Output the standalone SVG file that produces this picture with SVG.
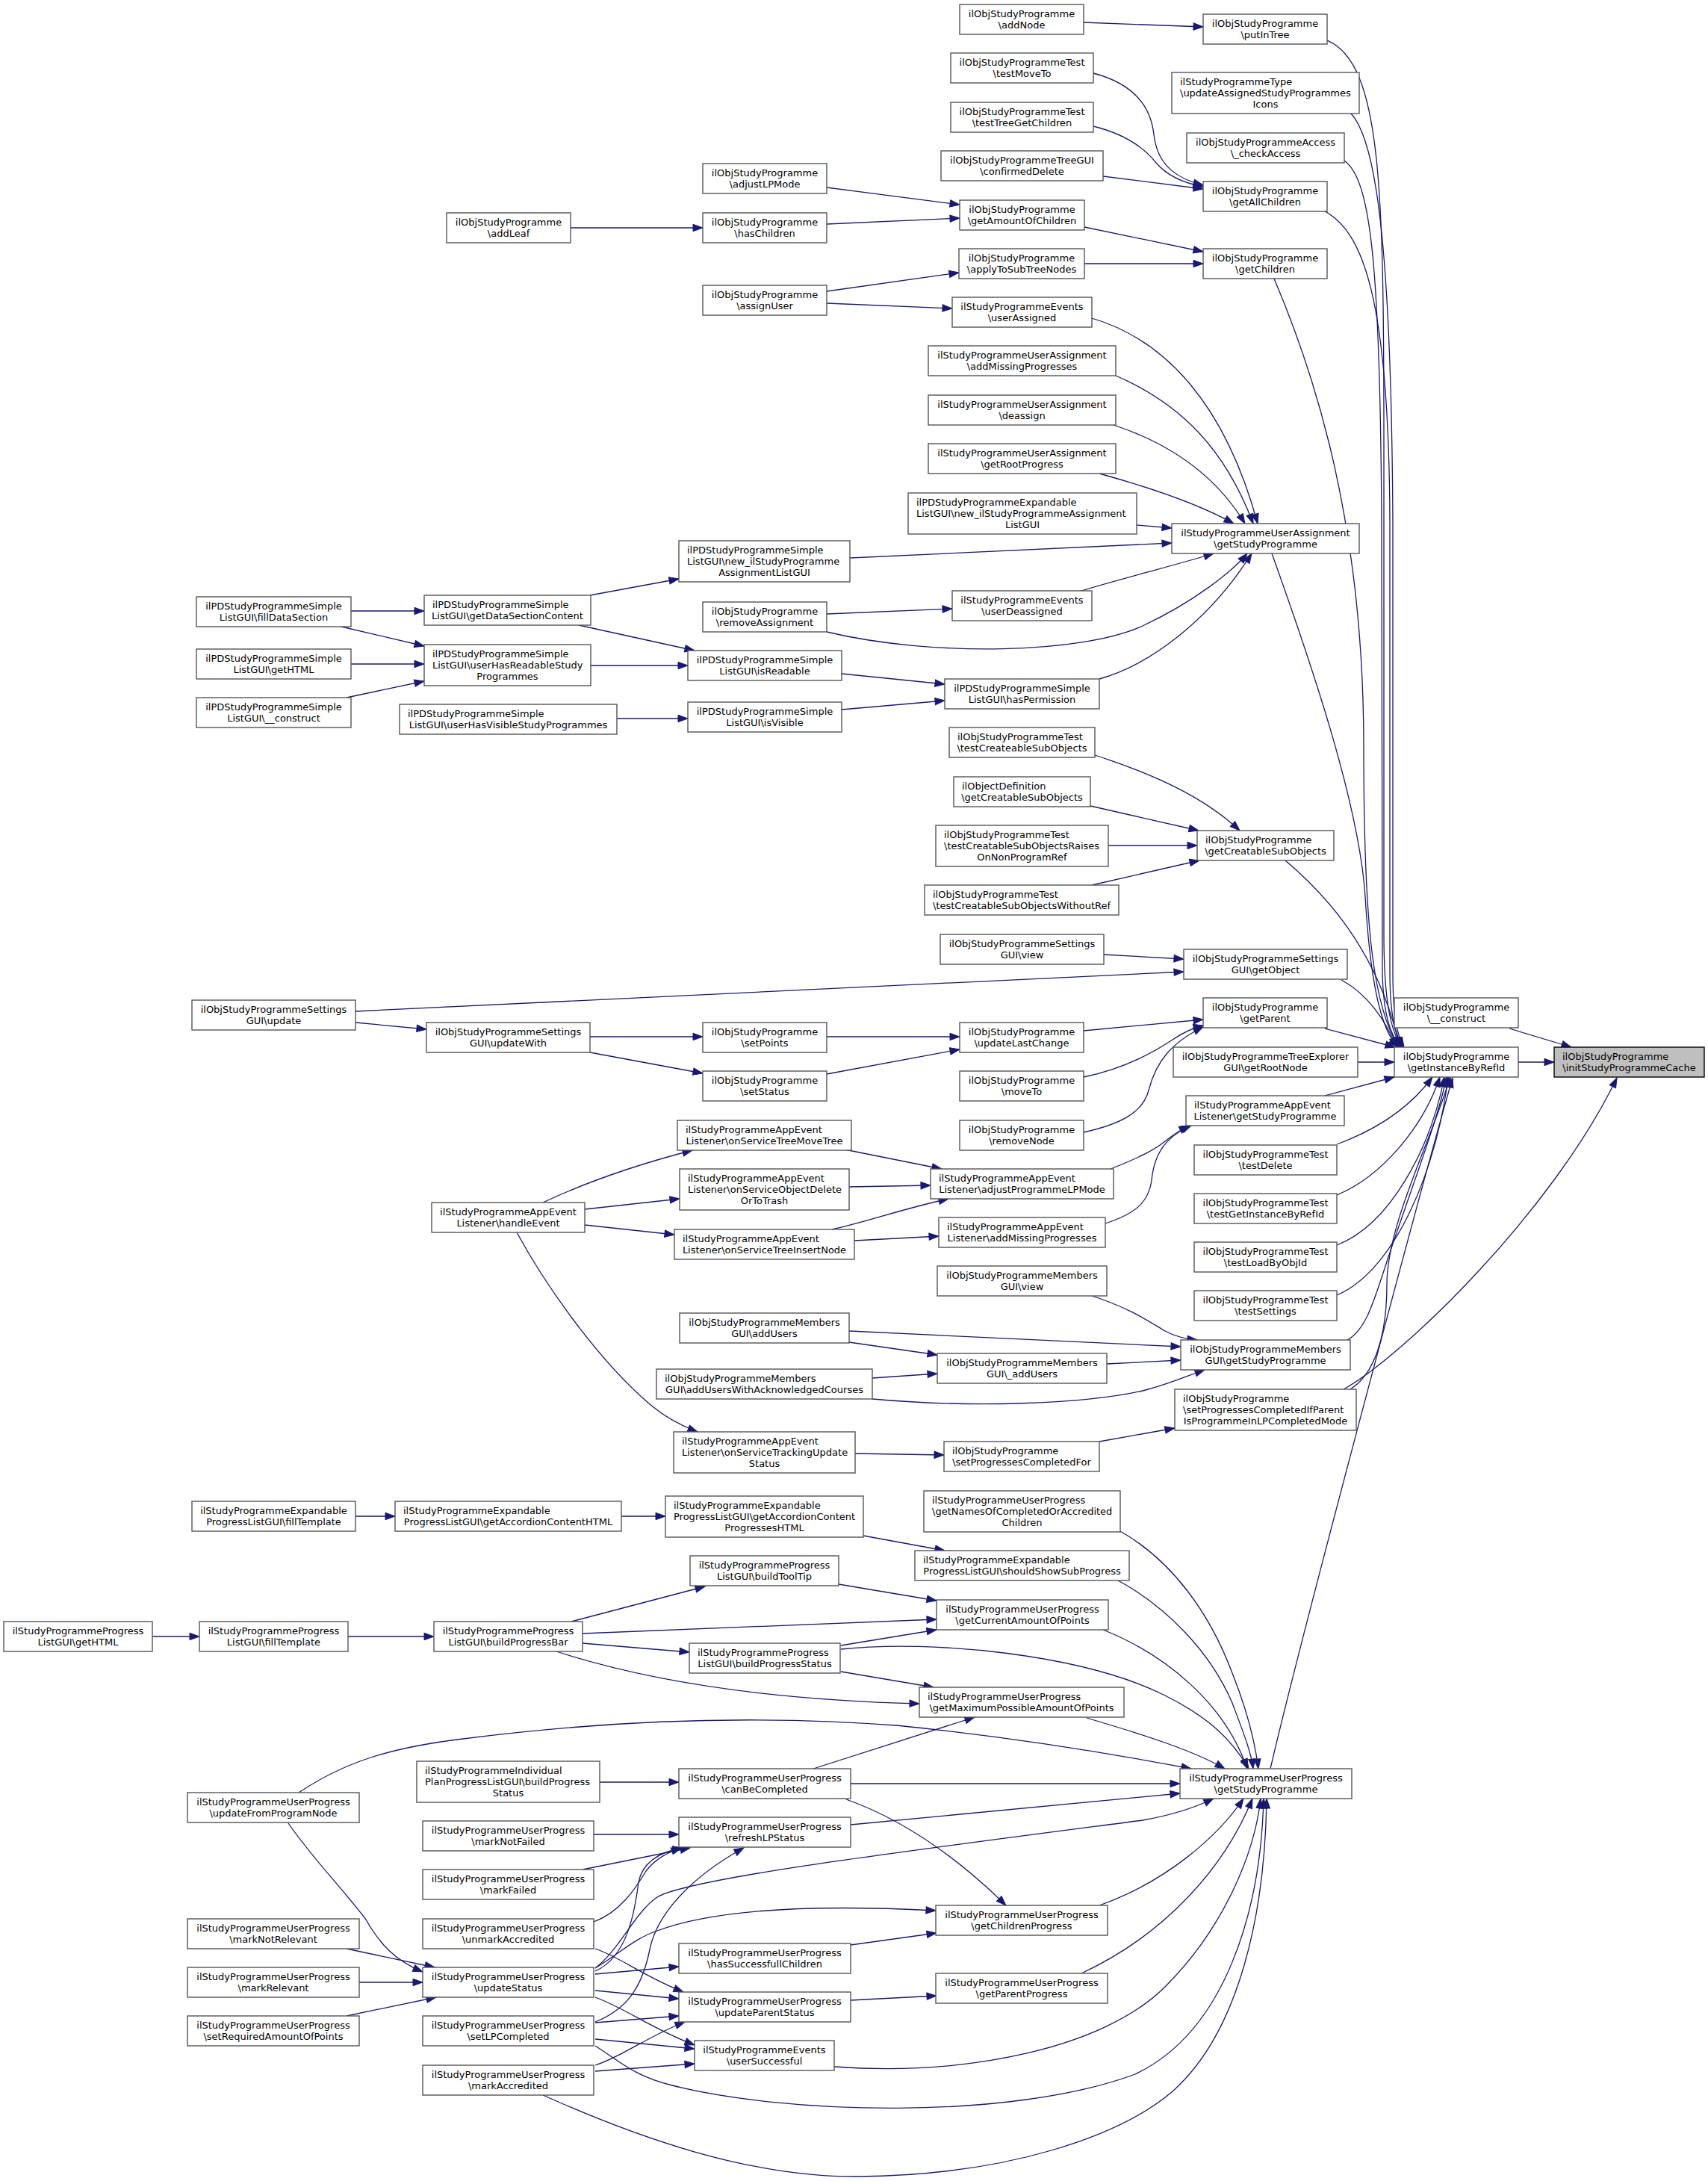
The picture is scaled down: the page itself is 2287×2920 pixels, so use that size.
<svg xmlns="http://www.w3.org/2000/svg" width="2287" height="2920" viewBox="0 0 2287 2920">
<style>
.node rect{fill:#fff;stroke:#555;stroke-width:1.4}
.node text{font-family:"DejaVu Sans",sans-serif;font-size:13px;fill:#000}
.c{text-anchor:middle}
.l{text-anchor:start}
.root rect{fill:#bfbfbf;stroke:#000}
#edges path{fill:none;stroke:#191970;stroke-width:1.3;marker-end:url(#arr)}
</style>
<defs>
<marker id="arr" markerUnits="userSpaceOnUse" markerWidth="15" markerHeight="11" refX="13" refY="5" orient="auto" overflow="visible">
<path d="M0,0.3 L13,5 L0,9.7 z" fill="#191970" stroke="#191970" stroke-width="1"/>
</marker>
</defs>
<rect width="2287" height="2920" fill="#fff"/>
<g id="edges">
<path d="M2033,1422 L2081,1422"/>
<path d="M2021,1377 L2104,1402"/>
<path d="M1799,1860 C1880,1815 2080,1620 2165,1443"/>
<path d="M1777,54 C1850,85 1853,250 1853,600 L1853,1250 C1853,1340 1862,1380 1877,1402"/>
<path d="M1809,152 C1845,190 1863,350 1865,700 L1865,1300 C1865,1360 1870,1385 1880,1402"/>
<path d="M1800,215 C1835,240 1848,350 1850,700 L1851,1300 C1852,1360 1862,1385 1875,1402"/>
<path d="M1774,283 C1825,310 1860,400 1861,700 L1861,1300 C1861,1360 1868,1385 1879,1402"/>
<path d="M1706,373 C1760,500 1826,700 1826,1000 C1826,1250 1840,1350 1873,1402"/>
<path d="M1703,741 C1760,900 1820,1080 1828,1200 C1835,1320 1850,1380 1872,1402"/>
<path d="M1721,1152 C1790,1210 1850,1290 1874,1402"/>
<path d="M1796,1312 C1830,1330 1855,1365 1870,1402"/>
<path d="M1774,1377 L1868,1402"/>
<path d="M1818,1422 L1867,1422"/>
<path d="M1774,1467 L1867,1442"/>
<path d="M1790,1532 C1850,1510 1890,1480 1918,1442"/>
<path d="M1790,1600 C1850,1575 1905,1510 1928,1442"/>
<path d="M1790,1667 C1860,1640 1915,1540 1934,1442"/>
<path d="M1790,1734 C1870,1700 1925,1560 1939,1442"/>
<path d="M1804,1794 C1830,1780 1840,1740 1860,1680 C1890,1590 1925,1500 1937,1442"/>
<path d="M1808,1860 C1840,1840 1857,1790 1857,1720 C1857,1640 1915,1530 1942,1442"/>
<path d="M1701,2368 C1740,2200 1900,1600 1945,1443"/>
<path d="M1451,30 L1611,36"/>
<path d="M1464,98 C1510,110 1540,135 1545,180 C1550,225 1580,240 1611,248"/>
<path d="M1464,169 C1500,178 1530,195 1548,218 C1565,238 1590,246 1611,250"/>
<path d="M1477,236 L1611,253"/>
<path d="M1452,304 L1611,337"/>
<path d="M1452,353 L1611,353"/>
<path d="M1107,251 L1285,274"/>
<path d="M1107,300 L1285,292"/>
<path d="M764,305 L941,305"/>
<path d="M1107,390 L1284,365"/>
<path d="M1107,406 L1275,413"/>
<path d="M1462,426 C1560,455 1640,540 1684,701"/>
<path d="M1494,503 C1580,540 1640,600 1678,701"/>
<path d="M1491,569 C1570,595 1630,640 1667,701"/>
<path d="M1472,634 C1530,650 1600,672 1652,701"/>
<path d="M1522,703 L1569,707"/>
<path d="M1138,747 L1569,727"/>
<path d="M1448,791 C1500,775 1580,755 1625,741"/>
<path d="M1107,846 C1250,880 1450,875 1530,838 C1600,805 1650,765 1670,741"/>
<path d="M1472,909 C1540,890 1620,830 1676,741"/>
<path d="M790,797 L909,775"/>
<path d="M775,837 L930,871"/>
<path d="M791,891 L921,891"/>
<path d="M470,818 L568,818"/>
<path d="M457,839 L568,865"/>
<path d="M470,889 L568,889"/>
<path d="M464,934 L568,912"/>
<path d="M826,962 L921,962"/>
<path d="M1127,902 L1265,916"/>
<path d="M1127,950 L1265,938"/>
<path d="M1107,822 L1275,815"/>
<path d="M1466,1011 C1540,1035 1610,1065 1660,1112"/>
<path d="M1460,1079 L1605,1112"/>
<path d="M1484,1132 L1603,1132"/>
<path d="M1462,1185 L1606,1152"/>
<path d="M1478,1278 L1585,1284"/>
<path d="M476,1354 L1585,1301"/>
<path d="M476,1369 L571,1378"/>
<path d="M790,1388 L941,1388"/>
<path d="M790,1409 L941,1437"/>
<path d="M1107,1388 L1285,1388"/>
<path d="M1107,1438 L1285,1405"/>
<path d="M1451,1380 L1611,1365"/>
<path d="M1451,1442 C1500,1432 1540,1412 1570,1392 C1585,1382 1598,1376 1611,1373"/>
<path d="M1451,1516 C1500,1505 1530,1490 1538,1460 C1548,1420 1570,1395 1611,1375"/>
<path d="M1487,1565 C1525,1550 1545,1540 1560,1528 C1570,1520 1580,1513 1592,1507"/>
<path d="M1480,1638 C1520,1625 1538,1610 1542,1580 C1546,1540 1565,1520 1595,1507"/>
<path d="M1131,1539 L1261,1565"/>
<path d="M1137,1589 L1246,1587"/>
<path d="M1114,1646 C1160,1636 1210,1618 1270,1605"/>
<path d="M1144,1661 L1257,1655"/>
<path d="M727,1610 C780,1585 850,1560 927,1540"/>
<path d="M783,1619 L910,1605"/>
<path d="M783,1640 L903,1653"/>
<path d="M692,1650 C730,1720 800,1820 870,1880 C890,1897 910,1908 934,1917"/>
<path d="M1145,1946 L1264,1948"/>
<path d="M1472,1930 L1573,1912"/>
<path d="M1462,1735 C1510,1750 1540,1770 1560,1782 C1575,1790 1590,1793 1603,1794"/>
<path d="M1137,1782 L1581,1803"/>
<path d="M1482,1826 L1581,1821"/>
<path d="M1168,1873 C1300,1885 1450,1880 1530,1862 C1560,1855 1590,1842 1613,1834"/>
<path d="M1137,1797 L1255,1814"/>
<path d="M1168,1845 L1255,1839"/>
<path d="M476,2030 L529,2030"/>
<path d="M832,2030 L891,2030"/>
<path d="M1156,2056 L1265,2076"/>
<path d="M204,2191 L267,2191"/>
<path d="M466,2191 L581,2191"/>
<path d="M765,2171 L944,2124"/>
<path d="M780,2187 L1254,2168"/>
<path d="M780,2200 L923,2212"/>
<path d="M745,2211 C850,2245 1000,2275 1231,2281"/>
<path d="M1123,2121 L1254,2143"/>
<path d="M1126,2203 L1254,2182"/>
<path d="M1126,2238 L1250,2259"/>
<path d="M1126,2208 C1250,2195 1450,2215 1560,2270 C1620,2300 1650,2330 1672,2368"/>
<path d="M1477,2182 C1560,2215 1640,2280 1670,2368"/>
<path d="M1497,2116 C1560,2150 1620,2210 1650,2280 C1665,2320 1675,2345 1678,2368"/>
<path d="M1500,2050 C1570,2090 1620,2160 1650,2240 C1670,2290 1680,2330 1685,2368"/>
<path d="M1455,2300 C1540,2325 1600,2345 1640,2368"/>
<path d="M400,2400 C460,2360 520,2340 620,2328 C800,2305 1000,2295 1200,2310 C1350,2325 1500,2350 1595,2368"/>
<path d="M1139,2388 L1580,2388"/>
<path d="M1139,2443 L1580,2401"/>
<path d="M797,2635 C830,2610 850,2560 880,2540 C920,2515 1200,2480 1530,2437 C1570,2430 1600,2420 1625,2408"/>
<path d="M1472,2551 C1560,2520 1630,2460 1665,2408"/>
<path d="M1448,2642 C1560,2590 1640,2500 1677,2408"/>
<path d="M1117,2767 C1300,2780 1480,2740 1560,2660 C1640,2580 1680,2480 1688,2408"/>
<path d="M797,2739 C830,2760 850,2780 900,2792 C1050,2830 1350,2840 1520,2777 C1640,2720 1688,2560 1692,2408"/>
<path d="M727,2805 C850,2860 1000,2915 1150,2914 C1350,2912 1500,2860 1570,2800 C1660,2720 1694,2560 1696,2408"/>
<path d="M803,2386 L909,2386"/>
<path d="M1089,2368 L1305,2299"/>
<path d="M1133,2409 C1220,2440 1290,2495 1347,2551"/>
<path d="M795,2456 L909,2456"/>
<path d="M780,2503 L924,2474"/>
<path d="M795,2573 C830,2560 850,2530 865,2505 C878,2488 895,2480 912,2474"/>
<path d="M797,2609 C830,2620 860,2645 915,2667"/>
<path d="M797,2639 C840,2620 850,2560 855,2520 C860,2495 880,2480 914,2474"/>
<path d="M797,2635 C830,2615 850,2595 880,2585 C960,2555 1100,2550 1253,2558"/>
<path d="M797,2643 L909,2633"/>
<path d="M797,2665 L909,2676"/>
<path d="M797,2674 C840,2690 870,2715 930,2738"/>
<path d="M797,2707 C840,2690 860,2660 870,2610 C880,2560 930,2510 996,2474"/>
<path d="M797,2708 L909,2699"/>
<path d="M797,2730 L930,2743"/>
<path d="M797,2765 C830,2755 870,2725 917,2707"/>
<path d="M797,2773 L930,2763"/>
<path d="M1139,2604 L1254,2588"/>
<path d="M1139,2678 L1254,2672"/>
<path d="M386,2441 C420,2490 460,2530 490,2570 C510,2605 530,2625 566,2640"/>
<path d="M464,2609 L582,2634"/>
<path d="M481,2654 L566,2654"/>
<path d="M464,2699 L584,2674"/>
</g>
<g id="n_init" class="node root"><rect x="2081" y="1402" width="201" height="40"/><text class="l" x="2092" y="1419.3">ilObjStudyProgramme</text><text class="c" x="2181.5" y="1433.9">\initStudyProgrammeCache</text></g>
<g id="n_construct" class="node"><rect x="1867" y="1336" width="166" height="40"/><text class="c" x="1950" y="1353.3">ilObjStudyProgramme</text><text class="c" x="1950" y="1367.9">\__construct</text></g>
<g id="n_getInstanceByRefId" class="node"><rect x="1867" y="1402" width="166" height="40"/><text class="c" x="1950" y="1419.3">ilObjStudyProgramme</text><text class="c" x="1950" y="1433.9">\getInstanceByRefId</text></g>
<g id="n_putInTree" class="node"><rect x="1611" y="19" width="166" height="40"/><text class="c" x="1694" y="36.3">ilObjStudyProgramme</text><text class="c" x="1694" y="50.9">\putInTree</text></g>
<g id="n_updateIcons" class="node"><rect x="1569" y="97" width="251" height="55"/><text class="l" x="1580" y="114.3">ilStudyProgrammeType</text><text class="l" x="1580" y="128.9">\updateAssignedStudyProgrammes</text><text class="c" x="1694.5" y="143.5">Icons</text></g>
<g id="n_checkAccess" class="node"><rect x="1589" y="178" width="211" height="40"/><text class="c" x="1694.5" y="195.3">ilObjStudyProgrammeAccess</text><text class="c" x="1694.5" y="209.9">\_checkAccess</text></g>
<g id="n_getAllChildren" class="node"><rect x="1611" y="243" width="166" height="40"/><text class="c" x="1694" y="260.3">ilObjStudyProgramme</text><text class="c" x="1694" y="274.9">\getAllChildren</text></g>
<g id="n_getChildren" class="node"><rect x="1611" y="333" width="166" height="40"/><text class="c" x="1694" y="350.3">ilObjStudyProgramme</text><text class="c" x="1694" y="364.9">\getChildren</text></g>
<g id="n_uaGetSP" class="node"><rect x="1569" y="701" width="251" height="40"/><text class="c" x="1694.5" y="718.3">ilStudyProgrammeUserAssignment</text><text class="c" x="1694.5" y="732.9">\getStudyProgramme</text></g>
<g id="n_getCreatableSubObjects" class="node"><rect x="1603" y="1112" width="183" height="40"/><text class="l" x="1614" y="1129.3">ilObjStudyProgramme</text><text class="c" x="1694.5" y="1143.9">\getCreatableSubObjects</text></g>
<g id="n_sgGetObject" class="node"><rect x="1585" y="1271" width="219" height="40"/><text class="c" x="1694.5" y="1288.3">ilObjStudyProgrammeSettings</text><text class="c" x="1694.5" y="1302.9">GUI\getObject</text></g>
<g id="n_getParent" class="node"><rect x="1611" y="1336" width="166" height="40"/><text class="c" x="1694" y="1353.3">ilObjStudyProgramme</text><text class="c" x="1694" y="1367.9">\getParent</text></g>
<g id="n_getRootNode" class="node"><rect x="1571" y="1402" width="247" height="40"/><text class="c" x="1694.5" y="1419.3">ilObjStudyProgrammeTreeExplorer</text><text class="c" x="1694.5" y="1433.9">GUI\getRootNode</text></g>
<g id="n_aeGetSP" class="node"><rect x="1588" y="1467" width="212" height="40"/><text class="l" x="1599" y="1484.3">ilStudyProgrammeAppEvent</text><text class="c" x="1694" y="1498.9">Listener\getStudyProgramme</text></g>
<g id="n_testDelete" class="node"><rect x="1599" y="1533" width="191" height="40"/><text class="c" x="1694.5" y="1550.3">ilObjStudyProgrammeTest</text><text class="c" x="1694.5" y="1564.9">\testDelete</text></g>
<g id="n_testGetInstanceByRefId" class="node"><rect x="1599" y="1598" width="191" height="40"/><text class="c" x="1694.5" y="1615.3">ilObjStudyProgrammeTest</text><text class="c" x="1694.5" y="1629.9">\testGetInstanceByRefId</text></g>
<g id="n_testLoadByObjId" class="node"><rect x="1599" y="1663" width="191" height="40"/><text class="c" x="1694.5" y="1680.3">ilObjStudyProgrammeTest</text><text class="c" x="1694.5" y="1694.9">\testLoadByObjId</text></g>
<g id="n_testSettings" class="node"><rect x="1599" y="1728" width="191" height="40"/><text class="c" x="1694.5" y="1745.3">ilObjStudyProgrammeTest</text><text class="c" x="1694.5" y="1759.9">\testSettings</text></g>
<g id="n_mgGetSP" class="node"><rect x="1581" y="1794" width="227" height="40"/><text class="c" x="1694.5" y="1811.3">ilObjStudyProgrammeMembers</text><text class="c" x="1694.5" y="1825.9">GUI\getStudyProgramme</text></g>
<g id="n_setPCIfParent" class="node"><rect x="1573" y="1860" width="243" height="55"/><text class="l" x="1584" y="1877.3">ilObjStudyProgramme</text><text class="l" x="1584" y="1891.9">\setProgressesCompletedIfParent</text><text class="c" x="1694.5" y="1906.5">IsProgrammeInLPCompletedMode</text></g>
<g id="n_upGetSP" class="node"><rect x="1580" y="2368" width="230" height="40"/><text class="c" x="1695" y="2385.3">ilStudyProgrammeUserProgress</text><text class="c" x="1695" y="2399.9">\getStudyProgramme</text></g>
<g id="n_addNode" class="node"><rect x="1285" y="6" width="166" height="40"/><text class="c" x="1368" y="23.3">ilObjStudyProgramme</text><text class="c" x="1368" y="37.9">\addNode</text></g>
<g id="n_testMoveTo" class="node"><rect x="1273" y="71" width="191" height="40"/><text class="c" x="1368.5" y="88.3">ilObjStudyProgrammeTest</text><text class="c" x="1368.5" y="102.9">\testMoveTo</text></g>
<g id="n_testTreeGetChildren" class="node"><rect x="1273" y="137" width="191" height="40"/><text class="c" x="1368.5" y="154.3">ilObjStudyProgrammeTest</text><text class="c" x="1368.5" y="168.9">\testTreeGetChildren</text></g>
<g id="n_confirmedDelete" class="node"><rect x="1260" y="202" width="217" height="40"/><text class="c" x="1368.5" y="219.3">ilObjStudyProgrammeTreeGUI</text><text class="c" x="1368.5" y="233.9">\confirmedDelete</text></g>
<g id="n_getAmountOfChildren" class="node"><rect x="1285" y="268" width="167" height="40"/><text class="c" x="1368.5" y="285.3">ilObjStudyProgramme</text><text class="c" x="1368.5" y="299.9">\getAmountOfChildren</text></g>
<g id="n_applyToSubTreeNodes" class="node"><rect x="1284" y="333" width="168" height="40"/><text class="c" x="1368" y="350.3">ilObjStudyProgramme</text><text class="c" x="1368" y="364.9">\applyToSubTreeNodes</text></g>
<g id="n_userAssigned" class="node"><rect x="1275" y="398" width="187" height="40"/><text class="c" x="1368.5" y="415.3">ilStudyProgrammeEvents</text><text class="c" x="1368.5" y="429.9">\userAssigned</text></g>
<g id="n_uaAddMissing" class="node"><rect x="1243" y="463" width="251" height="40"/><text class="c" x="1368.5" y="480.3">ilStudyProgrammeUserAssignment</text><text class="c" x="1368.5" y="494.9">\addMissingProgresses</text></g>
<g id="n_deassign" class="node"><rect x="1243" y="529" width="251" height="40"/><text class="c" x="1368.5" y="546.3">ilStudyProgrammeUserAssignment</text><text class="c" x="1368.5" y="560.9">\deassign</text></g>
<g id="n_getRootProgress" class="node"><rect x="1243" y="594" width="251" height="40"/><text class="c" x="1368.5" y="611.3">ilStudyProgrammeUserAssignment</text><text class="c" x="1368.5" y="625.9">\getRootProgress</text></g>
<g id="n_expNew" class="node"><rect x="1216" y="660" width="306" height="55"/><text class="l" x="1227" y="677.3">ilPDStudyProgrammeExpandable</text><text class="l" x="1227" y="691.9">ListGUI\new_ilStudyProgrammeAssignment</text><text class="c" x="1369" y="706.5">ListGUI</text></g>
<g id="n_userDeassigned" class="node"><rect x="1275" y="791" width="187" height="40"/><text class="c" x="1368.5" y="808.3">ilStudyProgrammeEvents</text><text class="c" x="1368.5" y="822.9">\userDeassigned</text></g>
<g id="n_hasPermission" class="node"><rect x="1265" y="909" width="207" height="40"/><text class="c" x="1368.5" y="926.3">ilPDStudyProgrammeSimple</text><text class="c" x="1368.5" y="940.9">ListGUI\hasPermission</text></g>
<g id="n_testCreateableSubObjects" class="node"><rect x="1271" y="974" width="195" height="40"/><text class="l" x="1282" y="991.3">ilObjStudyProgrammeTest</text><text class="c" x="1368.5" y="1005.9">\testCreateableSubObjects</text></g>
<g id="n_objDefGetCreatable" class="node"><rect x="1277" y="1040" width="183" height="40"/><text class="l" x="1288" y="1057.3">ilObjectDefinition</text><text class="c" x="1368.5" y="1071.9">\getCreatableSubObjects</text></g>
<g id="n_testRaises" class="node"><rect x="1253" y="1105" width="231" height="55"/><text class="l" x="1264" y="1122.3">ilObjStudyProgrammeTest</text><text class="l" x="1264" y="1136.9">\testCreatableSubObjectsRaises</text><text class="c" x="1368.5" y="1151.5">OnNonProgramRef</text></g>
<g id="n_testWithoutRef" class="node"><rect x="1238" y="1185" width="260" height="40"/><text class="l" x="1249" y="1202.3">ilObjStudyProgrammeTest</text><text class="c" x="1368" y="1216.9">\testCreatableSubObjectsWithoutRef</text></g>
<g id="n_sgView" class="node"><rect x="1259" y="1251" width="219" height="40"/><text class="c" x="1368.5" y="1268.3">ilObjStudyProgrammeSettings</text><text class="c" x="1368.5" y="1282.9">GUI\view</text></g>
<g id="n_updateLastChange" class="node"><rect x="1285" y="1369" width="166" height="40"/><text class="c" x="1368" y="1386.3">ilObjStudyProgramme</text><text class="c" x="1368" y="1400.9">\updateLastChange</text></g>
<g id="n_moveTo" class="node"><rect x="1285" y="1434" width="166" height="40"/><text class="c" x="1368" y="1451.3">ilObjStudyProgramme</text><text class="c" x="1368" y="1465.9">\moveTo</text></g>
<g id="n_removeNode" class="node"><rect x="1285" y="1500" width="166" height="40"/><text class="c" x="1368" y="1517.3">ilObjStudyProgramme</text><text class="c" x="1368" y="1531.9">\removeNode</text></g>
<g id="n_adjustProgrammeLPMode" class="node"><rect x="1246" y="1565" width="245" height="40"/><text class="l" x="1257" y="1582.3">ilStudyProgrammeAppEvent</text><text class="c" x="1368.5" y="1596.9">Listener\adjustProgrammeLPMode</text></g>
<g id="n_aeAddMissing" class="node"><rect x="1257" y="1630" width="223" height="40"/><text class="l" x="1268" y="1647.3">ilStudyProgrammeAppEvent</text><text class="c" x="1368.5" y="1661.9">Listener\addMissingProgresses</text></g>
<g id="n_mgView" class="node"><rect x="1255" y="1695" width="227" height="40"/><text class="c" x="1368.5" y="1712.3">ilObjStudyProgrammeMembers</text><text class="c" x="1368.5" y="1726.9">GUI\view</text></g>
<g id="n_mg_addUsers" class="node"><rect x="1255" y="1812" width="227" height="40"/><text class="c" x="1368.5" y="1829.3">ilObjStudyProgrammeMembers</text><text class="c" x="1368.5" y="1843.9">GUI\_addUsers</text></g>
<g id="n_setPCFor" class="node"><rect x="1264" y="1930" width="208" height="40"/><text class="l" x="1275" y="1947.3">ilObjStudyProgramme</text><text class="c" x="1368" y="1961.9">\setProgressesCompletedFor</text></g>
<g id="n_getNamesOf" class="node"><rect x="1237" y="1996" width="263" height="55"/><text class="l" x="1248" y="2013.3">ilStudyProgrammeUserProgress</text><text class="l" x="1248" y="2027.9">\getNamesOfCompletedOrAccredited</text><text class="c" x="1368.5" y="2042.5">Children</text></g>
<g id="n_shouldShow" class="node"><rect x="1225" y="2076" width="287" height="40"/><text class="l" x="1236" y="2093.3">ilStudyProgrammeExpandable</text><text class="c" x="1368.5" y="2107.9">ProgressListGUI\shouldShowSubProgress</text></g>
<g id="n_getCurrent" class="node"><rect x="1254" y="2142" width="230" height="40"/><text class="c" x="1369" y="2159.3">ilStudyProgrammeUserProgress</text><text class="c" x="1369" y="2173.9">\getCurrentAmountOfPoints</text></g>
<g id="n_getMax" class="node"><rect x="1231" y="2259" width="274" height="40"/><text class="l" x="1242" y="2276.3">ilStudyProgrammeUserProgress</text><text class="c" x="1368" y="2290.9">\getMaximumPossibleAmountOfPoints</text></g>
<g id="n_getChildrenProgress" class="node"><rect x="1253" y="2551" width="230" height="40"/><text class="c" x="1368" y="2568.3">ilStudyProgrammeUserProgress</text><text class="c" x="1368" y="2582.9">\getChildrenProgress</text></g>
<g id="n_getParentProgress" class="node"><rect x="1253" y="2642" width="230" height="40"/><text class="c" x="1368" y="2659.3">ilStudyProgrammeUserProgress</text><text class="c" x="1368" y="2673.9">\getParentProgress</text></g>
<g id="n_adjustLPMode" class="node"><rect x="941" y="219" width="166" height="40"/><text class="c" x="1024" y="236.3">ilObjStudyProgramme</text><text class="c" x="1024" y="250.9">\adjustLPMode</text></g>
<g id="n_hasChildren" class="node"><rect x="941" y="285" width="166" height="40"/><text class="c" x="1024" y="302.3">ilObjStudyProgramme</text><text class="c" x="1024" y="316.9">\hasChildren</text></g>
<g id="n_assignUser" class="node"><rect x="941" y="382" width="166" height="40"/><text class="c" x="1024" y="399.3">ilObjStudyProgramme</text><text class="c" x="1024" y="413.9">\assignUser</text></g>
<g id="n_simpleNew" class="node"><rect x="909" y="724" width="229" height="55"/><text class="l" x="920" y="741.3">ilPDStudyProgrammeSimple</text><text class="l" x="920" y="755.9">ListGUI\new_ilStudyProgramme</text><text class="c" x="1023.5" y="770.5">AssignmentListGUI</text></g>
<g id="n_removeAssignment" class="node"><rect x="941" y="806" width="166" height="40"/><text class="c" x="1024" y="823.3">ilObjStudyProgramme</text><text class="c" x="1024" y="837.9">\removeAssignment</text></g>
<g id="n_isReadable" class="node"><rect x="921" y="871" width="206" height="40"/><text class="c" x="1024" y="888.3">ilPDStudyProgrammeSimple</text><text class="c" x="1024" y="902.9">ListGUI\isReadable</text></g>
<g id="n_isVisible" class="node"><rect x="921" y="940" width="206" height="40"/><text class="c" x="1024" y="957.3">ilPDStudyProgrammeSimple</text><text class="c" x="1024" y="971.9">ListGUI\isVisible</text></g>
<g id="n_setPoints" class="node"><rect x="941" y="1369" width="166" height="40"/><text class="c" x="1024" y="1386.3">ilObjStudyProgramme</text><text class="c" x="1024" y="1400.9">\setPoints</text></g>
<g id="n_setStatus" class="node"><rect x="941" y="1434" width="166" height="40"/><text class="c" x="1024" y="1451.3">ilObjStudyProgramme</text><text class="c" x="1024" y="1465.9">\setStatus</text></g>
<g id="n_onMoveTree" class="node"><rect x="907" y="1500" width="233" height="40"/><text class="l" x="918" y="1517.3">ilStudyProgrammeAppEvent</text><text class="c" x="1023.5" y="1531.9">Listener\onServiceTreeMoveTree</text></g>
<g id="n_onDelete" class="node"><rect x="910" y="1565" width="227" height="55"/><text class="l" x="921" y="1582.3">ilStudyProgrammeAppEvent</text><text class="l" x="921" y="1596.9">Listener\onServiceObjectDelete</text><text class="c" x="1023.5" y="1611.5">OrToTrash</text></g>
<g id="n_onInsert" class="node"><rect x="903" y="1646" width="241" height="40"/><text class="l" x="914" y="1663.3">ilStudyProgrammeAppEvent</text><text class="c" x="1023.5" y="1677.9">Listener\onServiceTreeInsertNode</text></g>
<g id="n_mgAddUsers" class="node"><rect x="910" y="1758" width="227" height="40"/><text class="c" x="1023.5" y="1775.3">ilObjStudyProgrammeMembers</text><text class="c" x="1023.5" y="1789.9">GUI\addUsers</text></g>
<g id="n_mgAddUsersAck" class="node"><rect x="879" y="1833" width="289" height="40"/><text class="l" x="890" y="1850.3">ilObjStudyProgrammeMembers</text><text class="c" x="1023.5" y="1864.9">GUI\addUsersWithAcknowledgedCourses</text></g>
<g id="n_onTracking" class="node"><rect x="902" y="1917" width="243" height="55"/><text class="l" x="913" y="1934.3">ilStudyProgrammeAppEvent</text><text class="l" x="913" y="1948.9">Listener\onServiceTrackingUpdate</text><text class="c" x="1023.5" y="1963.5">Status</text></g>
<g id="n_getAccProgHTML" class="node"><rect x="891" y="2003" width="265" height="55"/><text class="l" x="902" y="2020.3">ilStudyProgrammeExpandable</text><text class="l" x="902" y="2034.9">ProgressListGUI\getAccordionContent</text><text class="c" x="1023.5" y="2049.5">ProgressesHTML</text></g>
<g id="n_buildToolTip" class="node"><rect x="924" y="2083" width="199" height="40"/><text class="c" x="1023.5" y="2100.3">ilStudyProgrammeProgress</text><text class="c" x="1023.5" y="2114.9">ListGUI\buildToolTip</text></g>
<g id="n_buildProgressStatus" class="node"><rect x="923" y="2200" width="202" height="40"/><text class="l" x="934" y="2217.3">ilStudyProgrammeProgress</text><text class="c" x="1024" y="2231.9">ListGUI\buildProgressStatus</text></g>
<g id="n_canBeCompleted" class="node"><rect x="909" y="2368" width="230" height="40"/><text class="c" x="1024" y="2385.3">ilStudyProgrammeUserProgress</text><text class="c" x="1024" y="2399.9">\canBeCompleted</text></g>
<g id="n_refreshLPStatus" class="node"><rect x="909" y="2433" width="230" height="40"/><text class="c" x="1024" y="2450.3">ilStudyProgrammeUserProgress</text><text class="c" x="1024" y="2464.9">\refreshLPStatus</text></g>
<g id="n_hasSuccessfullChildren" class="node"><rect x="909" y="2602" width="230" height="40"/><text class="c" x="1024" y="2619.3">ilStudyProgrammeUserProgress</text><text class="c" x="1024" y="2633.9">\hasSuccessfullChildren</text></g>
<g id="n_updateParentStatus" class="node"><rect x="909" y="2667" width="230" height="40"/><text class="c" x="1024" y="2684.3">ilStudyProgrammeUserProgress</text><text class="c" x="1024" y="2698.9">\updateParentStatus</text></g>
<g id="n_userSuccessful" class="node"><rect x="930" y="2732" width="187" height="40"/><text class="c" x="1023.5" y="2749.3">ilStudyProgrammeEvents</text><text class="c" x="1023.5" y="2763.9">\userSuccessful</text></g>
<g id="n_addLeaf" class="node"><rect x="598" y="285" width="166" height="40"/><text class="c" x="681" y="302.3">ilObjStudyProgramme</text><text class="c" x="681" y="316.9">\addLeaf</text></g>
<g id="n_getDataSectionContent" class="node"><rect x="568" y="797" width="223" height="40"/><text class="l" x="579" y="814.3">ilPDStudyProgrammeSimple</text><text class="c" x="679.5" y="828.9">ListGUI\getDataSectionContent</text></g>
<g id="n_userHasReadable" class="node"><rect x="568" y="863" width="223" height="55"/><text class="l" x="579" y="880.3">ilPDStudyProgrammeSimple</text><text class="l" x="579" y="894.9">ListGUI\userHasReadableStudy</text><text class="c" x="679.5" y="909.5">Programmes</text></g>
<g id="n_userHasVisible" class="node"><rect x="535" y="943" width="291" height="40"/><text class="l" x="546" y="960.3">ilPDStudyProgrammeSimple</text><text class="c" x="680.5" y="974.9">ListGUI\userHasVisibleStudyProgrammes</text></g>
<g id="n_updateWith" class="node"><rect x="571" y="1369" width="219" height="40"/><text class="c" x="680.5" y="1386.3">ilObjStudyProgrammeSettings</text><text class="c" x="680.5" y="1400.9">GUI\updateWith</text></g>
<g id="n_handleEvent" class="node"><rect x="578" y="1610" width="205" height="40"/><text class="c" x="680.5" y="1627.3">ilStudyProgrammeAppEvent</text><text class="c" x="680.5" y="1641.9">Listener\handleEvent</text></g>
<g id="n_getAccHTML" class="node"><rect x="529" y="2010" width="303" height="40"/><text class="l" x="540" y="2027.3">ilStudyProgrammeExpandable</text><text class="c" x="680.5" y="2041.9">ProgressListGUI\getAccordionContentHTML</text></g>
<g id="n_buildProgressBar" class="node"><rect x="581" y="2171" width="199" height="40"/><text class="c" x="680.5" y="2188.3">ilStudyProgrammeProgress</text><text class="c" x="680.5" y="2202.9">ListGUI\buildProgressBar</text></g>
<g id="n_indivBuild" class="node"><rect x="558" y="2358" width="245" height="55"/><text class="l" x="569" y="2375.3">ilStudyProgrammeIndividual</text><text class="l" x="569" y="2389.9">PlanProgressListGUI\buildProgress</text><text class="c" x="680.5" y="2404.5">Status</text></g>
<g id="n_markNotFailed" class="node"><rect x="566" y="2438" width="229" height="40"/><text class="c" x="680.5" y="2455.3">ilStudyProgrammeUserProgress</text><text class="c" x="680.5" y="2469.9">\markNotFailed</text></g>
<g id="n_markFailed" class="node"><rect x="566" y="2503" width="229" height="40"/><text class="c" x="680.5" y="2520.3">ilStudyProgrammeUserProgress</text><text class="c" x="680.5" y="2534.9">\markFailed</text></g>
<g id="n_unmarkAccredited" class="node"><rect x="566" y="2569" width="229" height="40"/><text class="c" x="680.5" y="2586.3">ilStudyProgrammeUserProgress</text><text class="c" x="680.5" y="2600.9">\unmarkAccredited</text></g>
<g id="n_updateStatus" class="node"><rect x="566" y="2634" width="229" height="40"/><text class="c" x="680.5" y="2651.3">ilStudyProgrammeUserProgress</text><text class="c" x="680.5" y="2665.9">\updateStatus</text></g>
<g id="n_setLPCompleted" class="node"><rect x="566" y="2699" width="229" height="40"/><text class="c" x="680.5" y="2716.3">ilStudyProgrammeUserProgress</text><text class="c" x="680.5" y="2730.9">\setLPCompleted</text></g>
<g id="n_markAccredited" class="node"><rect x="566" y="2765" width="229" height="40"/><text class="c" x="680.5" y="2782.3">ilStudyProgrammeUserProgress</text><text class="c" x="680.5" y="2796.9">\markAccredited</text></g>
<g id="n_fillDataSection" class="node"><rect x="263" y="799" width="207" height="40"/><text class="c" x="366.5" y="816.3">ilPDStudyProgrammeSimple</text><text class="c" x="366.5" y="830.9">ListGUI\fillDataSection</text></g>
<g id="n_simpleGetHTML" class="node"><rect x="263" y="869" width="207" height="40"/><text class="c" x="366.5" y="886.3">ilPDStudyProgrammeSimple</text><text class="c" x="366.5" y="900.9">ListGUI\getHTML</text></g>
<g id="n_simpleConstruct" class="node"><rect x="263" y="934" width="207" height="40"/><text class="c" x="366.5" y="951.3">ilPDStudyProgrammeSimple</text><text class="c" x="366.5" y="965.9">ListGUI\__construct</text></g>
<g id="n_sgUpdate" class="node"><rect x="257" y="1339" width="219" height="40"/><text class="c" x="366.5" y="1356.3">ilObjStudyProgrammeSettings</text><text class="c" x="366.5" y="1370.9">GUI\update</text></g>
<g id="n_expFillTemplate" class="node"><rect x="257" y="2010" width="219" height="40"/><text class="c" x="366.5" y="2027.3">ilStudyProgrammeExpandable</text><text class="c" x="366.5" y="2041.9">ProgressListGUI\fillTemplate</text></g>
<g id="n_plFillTemplate" class="node"><rect x="267" y="2171" width="199" height="40"/><text class="c" x="366.5" y="2188.3">ilStudyProgrammeProgress</text><text class="c" x="366.5" y="2202.9">ListGUI\fillTemplate</text></g>
<g id="n_updateFromProgramNode" class="node"><rect x="251" y="2400" width="230" height="40"/><text class="c" x="366" y="2417.3">ilStudyProgrammeUserProgress</text><text class="c" x="366" y="2431.9">\updateFromProgramNode</text></g>
<g id="n_markNotRelevant" class="node"><rect x="251" y="2569" width="230" height="40"/><text class="c" x="366" y="2586.3">ilStudyProgrammeUserProgress</text><text class="c" x="366" y="2600.9">\markNotRelevant</text></g>
<g id="n_markRelevant" class="node"><rect x="251" y="2634" width="230" height="40"/><text class="c" x="366" y="2651.3">ilStudyProgrammeUserProgress</text><text class="c" x="366" y="2665.9">\markRelevant</text></g>
<g id="n_setRequiredAmountOfPoints" class="node"><rect x="251" y="2699" width="230" height="40"/><text class="c" x="366" y="2716.3">ilStudyProgrammeUserProgress</text><text class="c" x="366" y="2730.9">\setRequiredAmountOfPoints</text></g>
<g id="n_plGetHTML" class="node"><rect x="5" y="2171" width="199" height="40"/><text class="c" x="104.5" y="2188.3">ilStudyProgrammeProgress</text><text class="c" x="104.5" y="2202.9">ListGUI\getHTML</text></g>
</svg>
